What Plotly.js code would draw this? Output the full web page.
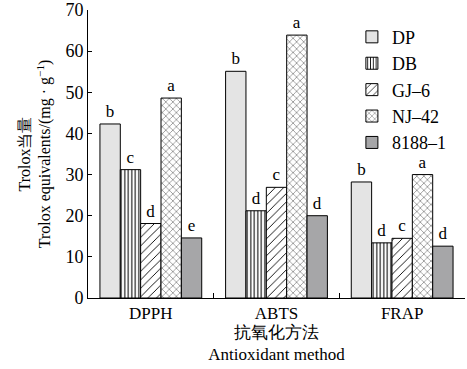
<!DOCTYPE html>
<html><head><meta charset="utf-8">
<script src="https://cdn.plot.ly/plotly-3.0.1.min.js"></script>
<style>html,body{margin:0;padding:0;background:#fff}#c{width:467px;height:369px}</style>
</head><body><div id="c"></div>
<script>
const categories = ["DPPH", "ABTS", "FRAP"];
const seriesNames = ["DP", "DB", "GJ\u20136", "NJ\u201342", "8188\u20131"];
const DP = [42.3, 55.1, 28.2];
const DB = [31.2, 21.2, 13.4];
const GJ6 = [18.1, 26.9, 14.5];
const NJ42 = [48.6, 63.9, 30.0];
const S8188 = [14.6, 20.0, 12.6];
const lettersDP = ["b", "b", "b"];
const lettersDB = ["c", "d", "d"];
const lettersGJ6 = ["d", "c", "c"];
const lettersNJ42 = ["a", "a", "a"];
const letters8188 = ["e", "d", "d"];

const FONT = "Liberation Serif";
const values = [DP, DB, GJ6, NJ42, S8188];
const letters = [lettersDP, lettersDB, lettersGJ6, lettersNJ42, letters8188];
const styles = [
  {color: "#e4e4e4"},
  {color: "#ffffff", pattern: {shape: "|", fgcolor: "#000", bgcolor: "#fff", size: 3.5, solidity: 0.3, fillmode: "replace"}},
  {color: "#ffffff", pattern: {shape: "/", fgcolor: "#000", bgcolor: "#fff", size: 6, solidity: 0.15, fillmode: "replace"}},
  {color: "#ffffff", pattern: {shape: "x", fgcolor: "#555", bgcolor: "#fff", size: 5, solidity: 0.2, fillmode: "replace"}},
  {color: "#a6a6a8"}
];
const data = values.map((v, i) => ({
  type: "bar", x: categories, y: v, name: seriesNames[i],
  text: letters[i], textposition: "outside", cliponaxis: false,
  textfont: {family: FONT, size: 17, color: "#000"},
  marker: Object.assign({line: {color: "#000", width: 1}}, styles[i])
}));
const layout = {
  width: 467, height: 369,
  margin: {l: 88, r: 2, t: 10, b: 71},
  paper_bgcolor: "#fff", plot_bgcolor: "#fff",
  barmode: "group", bargap: 0.19, bargroupgap: 0,
  font: {family: FONT, color: "#000", size: 17},
  showlegend: true,
  legend: {x: 0.70, y: 0.97, xanchor: "left", yanchor: "top", font: {family: FONT, size: 18, color: "#000"}, bgcolor: "rgba(0,0,0,0)", tracegroupgap: 0, itemwidth: 30},
  xaxis: {
    type: "category", range: [-0.5, 2.5], showline: true, linecolor: "#000", linewidth: 1,
    ticks: "inside", tickson: "boundaries", ticklen: 5, tickcolor: "#000",
    tickfont: {family: FONT, size: 17}, showgrid: false, zeroline: false,
    title: {text: "抗氧化方法<br>Antioxidant method", font: {family: FONT, size: 17, color: "#000"}, standoff: 2}
  },
  yaxis: {
    range: [0, 70], dtick: 10, showline: true, linecolor: "#000", linewidth: 1,
    ticks: "inside", ticklen: 4, tickcolor: "#000", showgrid: false, zeroline: false,
    tickfont: {family: FONT, size: 18},
    title: {text: "Trolox当量<br>Trolox equivalents/(mg · g<sup>−1</sup>)", font: {family: FONT, size: 16, color: "#000"}, standoff: 10}
  }
};
Plotly.newPlot("c", data, layout, {displayModeBar: false, staticPlot: true});
</script></body></html>
